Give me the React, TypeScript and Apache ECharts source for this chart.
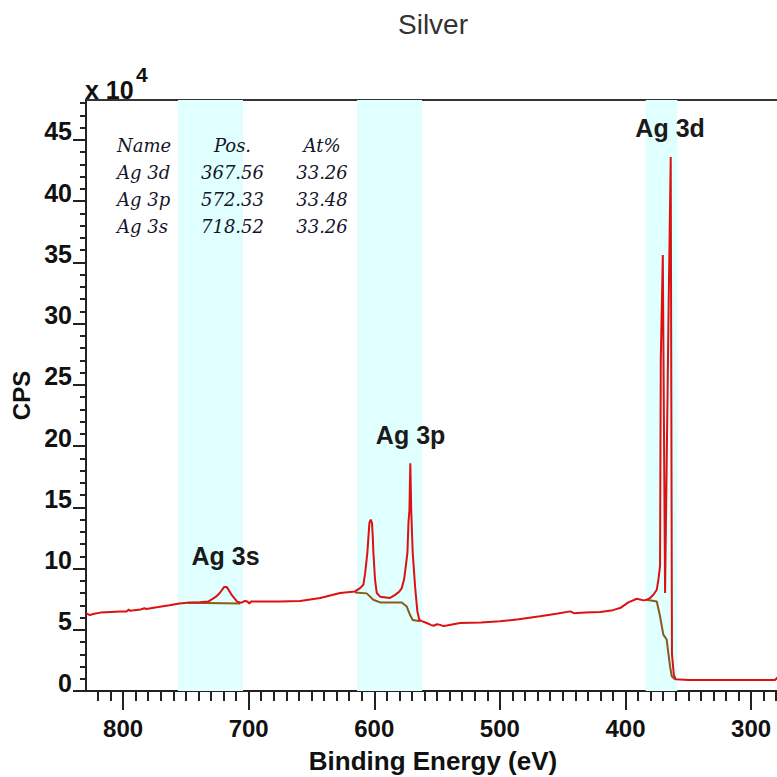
import React, { useEffect, useRef } from "react";
import * as echarts from "echarts";

// Survey spectrum (binding energy in eV, CPS in units of 1e4)
const energy = [
  829.5, 826.5, 823, 818, 810, 802, 797, 795.5, 794.5, 786, 783, 781.5, 772, 763, 755, 749, 739,
  732.3, 729, 726, 723, 719.5, 717.5, 713.2, 709.2, 706, 703, 701, 699.5, 698, 690, 675, 659, 643,
  627.2, 615.3, 611.3, 608.7, 607.3, 605.5, 603.9, 602.8, 601.8, 601.2, 600.7, 599.4, 598, 595.4,
  587.4, 583.4, 580, 578.1, 576.3, 574.9, 573.6, 572.8, 572, 571.3, 570.6, 569.4, 567.5, 565.7,
  564.1, 562.2, 558.2, 555, 552.9, 550, 547.6, 545, 542.3, 531.7, 515, 500, 485, 468, 455, 444,
  441, 432, 420, 410, 404.3, 397.7, 391, 385.7, 383, 380.4, 377.8, 375.1, 373.8, 372.5, 371.9,
  370.3, 368.5, 365.6, 364.0, 363.0, 361.5, 360, 350, 330, 300, 281, 279, 277,
];
const cps = [
  6.35, 6.2, 6.3, 6.4, 6.45, 6.5, 6.5, 6.65, 6.55, 6.65, 6.75, 6.7, 6.85, 7.0, 7.15, 7.2, 7.25,
  7.3, 7.5, 7.7, 8.0, 8.5, 8.5, 7.8, 7.3, 7.2, 7.35, 7.3, 7.15, 7.3, 7.3, 7.3, 7.35, 7.6,
  8.0, 8.13, 8.4, 8.67, 9.6, 11.3, 13.7, 14.0, 13.7, 12.6, 11.3, 9.1, 8.0, 7.7,
  7.6, 7.85, 8.13, 8.4, 9.1, 10.2, 11.3, 13.7, 14.8, 18.6, 14.8, 11.3, 8.5, 6.5,
  5.8, 5.7, 5.55, 5.4, 5.33, 5.45, 5.4, 5.3, 5.35, 5.55, 5.6, 5.7, 5.85, 6.1, 6.3, 6.5,
  6.35, 6.4, 6.45, 6.6, 6.77, 7.23, 7.53, 7.4, 7.45, 7.6, 7.86, 8.27, 9.1, 10.2, 27.1,
  35.6, 8.0, 31.9, 43.6, 3.0, 1.3, 0.95, 0.9, 0.9, 0.9, 0.9, 1.1, 1.0,
];

// Shirley backgrounds (null = gap between regions)
const bgEnergy = [
  748.3, 706.9, null,
  615.3, 606.0, 600.8, 595.4, 578.1, 574.2, 571.5, 569.4, 563.6, null,
  383.1, 375.1, 372.5, 369.9, 367.2, 365.9, 364.5, 363.2, 360.5,
];
const bgCps = [
  7.2, 7.15, null,
  8.05, 7.97, 7.45, 7.23, 7.23, 6.9, 6.2, 5.8, 5.7, null,
  7.45, 7.3, 6.1, 4.6, 4.2, 3.1, 2.0, 1.2, 0.95,
];

// Integration regions
const bandStart = [756.3, 613.7, 383.9];
const bandEnd = [704.5, 562.0, 358.7];

// Peak annotations
const peakNames = ["Ag 3d", "Ag 3p", "Ag 3s"];
const peakLabelX = [364.5, 571.1, 718.4];
const peakLabelY = [45.98, 20.93, 10.99];

// Quantification table
const tableHeader = ["Name", "Pos.", "At%"];
const tableNames = ["Ag 3d", "Ag 3p", "Ag 3s"];
const tablePos = ["367.56", "572.33", "718.52"];
const tableAt = ["33.26", "33.48", "33.26"];

// Axis ticks
const xTickValues = [800, 700, 600, 500, 400, 300];
const yTickValues = [0, 5, 10, 15, 20, 25, 30, 35, 40, 45];

const SANS = "'Liberation Sans', Arial, sans-serif";
const SERIF = "'DejaVu Serif', serif";

export default function App() {
  const ref = useRef<HTMLDivElement>(null);
  useEffect(() => {
    const chart = echarts.init(ref.current!, null, { renderer: "svg" });
    const spectrum = energy.map((e, i) => [e, cps[i]]);
    const background = bgEnergy.map((e, i) => (e === null ? "-" : [e, bgCps[i]]));
    const bands = bandStart.map((s, i) => [{ xAxis: s }, { xAxis: bandEnd[i] }]);
    const peaks = peakNames.map((n, i) => ({ name: n, value: [peakLabelX[i], peakLabelY[i]] }));

    const tableRows = [tableHeader, ...tableNames.map((n, i) => [n, tablePos[i], tableAt[i]])];
    const rowY = [145, 172, 199, 226];
    const colX = [117, 232.5, 322];
    const colAlign = ["left", "center", "center"];
    const tableGraphics: any[] = [];
    tableRows.forEach((row, r) => {
      row.forEach((cell, c) => {
        tableGraphics.push({
          type: "text",
          x: colX[c],
          y: rowY[r],
          z: 50,
          silent: true,
          style: {
            text: cell,
            fontFamily: SERIF,
            fontStyle: "italic",
            fontSize: 18,
            fill: "#15152a",
            align: colAlign[c],
            verticalAlign: "middle",
          },
        });
      });
    });

    const option: any = {
      animation: false,
      backgroundColor: "#ffffff",
      grid: {
        left: 86,
        top: 100,
        width: 694,
        height: 591,
        outerBoundsMode: "none",
        containLabel: false,
        show: true,
        borderColor: "#333",
        borderWidth: 2,
        backgroundColor: "transparent",
      },
      xAxis: {
        type: "value",
        inverse: true,
        min: 277,
        max: 829.5,
        name: "Binding Energy (eV)",
        nameLocation: "middle",
        nameGap: 57,
        nameTextStyle: { fontFamily: SANS, fontSize: 26, fontWeight: "bold", color: "#111", lineHeight: 26 },
        axisLine: { show: true, onZero: false, lineStyle: { color: "#222", width: 2 } },
        axisTick: { show: true, customValues: xTickValues, length: 19, lineStyle: { color: "#222", width: 2 } },
        minorTick: { show: true, splitNumber: 10, length: 10, lineStyle: { color: "#222", width: 2 } },
        axisLabel: {
          customValues: xTickValues,
          margin: 25,
          fontFamily: SANS,
          fontSize: 24,
          fontWeight: "bold",
          color: "#111",
          lineHeight: 24,
        },
        splitLine: { show: false },
        minorSplitLine: { show: false },
      },
      yAxis: {
        type: "value",
        min: 0,
        max: 48.25,
        splitNumber: 10,
        name: "CPS",
        nameLocation: "middle",
        nameGap: 47,
        nameTextStyle: { fontFamily: SANS, fontSize: 24, fontWeight: "bold", color: "#111" },
        axisLine: { show: true, lineStyle: { color: "#222", width: 2 } },
        axisTick: { show: true, customValues: yTickValues, length: 13, lineStyle: { color: "#222", width: 2 } },
        minorTick: { show: true, splitNumber: 5, length: 6, lineStyle: { color: "#222", width: 2 } },
        axisLabel: {
          customValues: yTickValues,
          margin: 14,
          fontFamily: SANS,
          fontSize: 25,
          fontWeight: "bold",
          color: "#111",
          verticalAlign: "bottom",
          lineHeight: 17,
        },
        splitLine: { show: false },
        minorSplitLine: { show: false },
      },
      graphic: [
        {
          type: "text",
          x: 433,
          y: 24,
          z: 50,
          silent: true,
          style: { text: "Silver", fontFamily: SANS, fontSize: 28, fill: "#333", align: "center", verticalAlign: "middle" },
        },
        {
          type: "text",
          x: 85,
          y: 89.5,
          z: 50,
          silent: true,
          style: { text: "x 10", fontFamily: SANS, fontSize: 25, fontWeight: "bold", fill: "#111", align: "left", verticalAlign: "middle" },
        },
        {
          type: "text",
          x: 136,
          y: 74.5,
          z: 50,
          silent: true,
          style: { text: "4", fontFamily: SANS, fontSize: 21, fontWeight: "bold", fill: "#111", align: "left", verticalAlign: "middle" },
        },
        ...tableGraphics,
      ],
      series: [
        {
          type: "line",
          name: "regions",
          data: [],
          silent: true,
          markArea: {
            silent: true,
            itemStyle: { color: "#e0ffff" },
            data: bands,
          },
          z: 1,
        },
        {
          type: "line",
          name: "background",
          data: background,
          showSymbol: false,
          connectNulls: false,
          lineStyle: { color: "#8b5a1a", width: 2 },
          z: 2,
        },
        {
          type: "line",
          name: "spectrum",
          data: spectrum,
          showSymbol: false,
          lineStyle: { color: "#dd1111", width: 2 },
          z: 3,
        },
        {
          type: "scatter",
          name: "peaks",
          data: peaks,
          symbolSize: 1,
          itemStyle: { color: "transparent", opacity: 1 },
          silent: true,
          z: 4,
          label: {
            show: true,
            position: "inside",
            formatter: (p: any) => p.name,
            fontFamily: SANS,
            fontSize: 25,
            fontWeight: "bold",
            color: "#1a1a1a",
            opacity: 1,
          },
        },
      ],
    };
    chart.setOption(option);
    return () => chart.dispose();
  }, []);
  return (
    <div
      ref={ref}
      style={{ position: "fixed", left: 0, top: 0, width: 777, height: 777, background: "#fff" }}
    />
  );
}
